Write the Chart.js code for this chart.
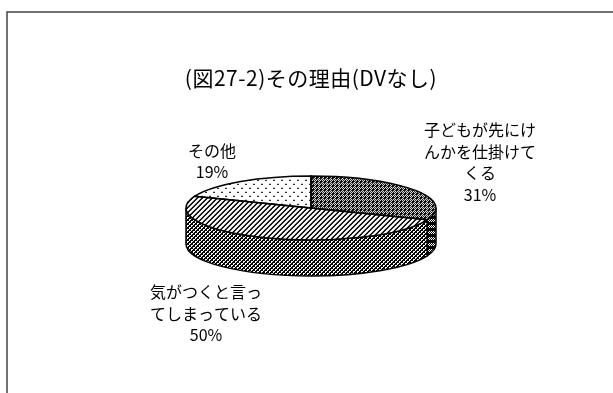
<!DOCTYPE html>
<html>
<head>
<meta charset="utf-8">
<style>
  html, body { margin: 0; padding: 0; background: #fff; }
  #wrap { width: 613px; height: 393px; }
</style>
</head>
<body>
<div id="wrap"><canvas id="pie" width="613" height="393"></canvas></div>
<script src="https://cdn.jsdelivr.net/npm/chart.js@4/dist/chart.umd.min.js"></script>
<script>
// ─── Data ───
const titleText = '(図27-2)その理由(DVなし)';
const categories = ['子どもが先にけんかを仕掛けてくる', '気がつくと言ってしまっている', 'その他'];
const shares = [31, 50, 19];
const labelLines = [
  ['子どもが先にけ', 'んかを仕掛けて', 'くる', '31%'],
  ['気がつくと言っ', 'てしまっている', '50%'],
  ['その他', '19%'],
];

// ─── Layout ───
const TILT = 0.256;
const DEPTH = 36;
const FONT = '"Noto Sans CJK JP", sans-serif';
const LABEL_POS = [[480, 130, 21.6], [206, 292, 21.5], [212, 151, 21]];

// ─── Patterns ───
function tile(w, h, paint) {
  const c = document.createElement('canvas');
  c.width = w; c.height = h;
  const x = c.getContext('2d');
  x.fillStyle = '#fff';
  x.fillRect(0, 0, w, h);
  x.fillStyle = '#000';
  paint(x);
  return c;
}
function makePattern(t, squash) {
  const p = document.createElement('canvas').getContext('2d').createPattern(t, 'repeat');
  if (squash) p.setTransform(new DOMMatrix().scale(1, 1 / TILT));
  return p;
}
const ditherTile = tile(4, 4, x => {
  [[0,0],[2,0],[1,1],[3,1],[0,2],[1,2],[2,2],[3,3],[1,3],[0,3]].forEach(([a,b]) => x.fillRect(a,b,1,1));
});
const hatchTile = tile(5, 5, x => {
  for (let i = 0; i < 5; i++) x.fillRect(i, 4 - i, 1, 1);
  for (let i = 0; i < 5; i++) x.fillRect((i + 1) % 5, 4 - i, 1, 1);
});
const dotTile = tile(8, 8, x => { x.fillRect(1, 1, 2, 1); x.fillRect(5, 5, 2, 1); });
const denseTile = tile(4, 4, x => {
  for (let i = 0; i < 4; i++) { x.fillRect(i, 3 - i, 1, 1); x.fillRect(i, i, 1, 1); }
  x.fillRect(0, 2, 1, 1); x.fillRect(2, 0, 1, 1);
});
const sideDarkTile = tile(4, 6, x => {
  x.fillRect(0, 0, 4, 3);
  x.fillRect(0, 3, 1, 1); x.fillRect(2, 3, 1, 1);
  x.fillRect(1, 4, 1, 1); x.fillRect(3, 4, 1, 1);
  x.fillRect(0, 5, 1, 1); x.fillRect(2, 5, 1, 1);
});
const topFills = [makePattern(ditherTile, true), makePattern(hatchTile, true), makePattern(dotTile, true)];
const sideFills = [makePattern(sideDarkTile), makePattern(denseTile), null];

// ─── Plugin: tilts the pie and adds the rim ───
function tilt(ctx, cy) {
  ctx.translate(0, cy);
  ctx.scale(1, TILT);
  ctx.translate(0, -cy);
}

function rim(ctx, a, fill) {
  const from = Math.max(a.startAngle, 0);
  const to = Math.min(a.endAngle, Math.PI);
  if (to <= from) return;
  const ry = a.outerRadius * TILT;
  ctx.beginPath();
  ctx.ellipse(a.x, a.y, a.outerRadius, ry, 0, from, to);
  ctx.ellipse(a.x, a.y + DEPTH, a.outerRadius, ry, 0, to, from, true);
  ctx.closePath();
  ctx.fillStyle = fill;
  ctx.fill();
  ctx.strokeStyle = '#000';
  ctx.lineWidth = 1.5;
  ctx.stroke();
}

function outline(ctx, a) {
  ctx.save();
  tilt(ctx, a.y);
  ctx.beginPath();
  ctx.moveTo(a.x, a.y);
  ctx.arc(a.x, a.y, a.outerRadius, a.startAngle, a.endAngle);
  ctx.closePath();
  ctx.restore();
  ctx.strokeStyle = '#000';
  ctx.lineWidth = 1.5;
  ctx.stroke();
}

const tiltedPie = {
  id: 'tiltedPie',
  beforeDraw(chart) {
    const ctx = chart.ctx;
    ctx.save();
    ctx.strokeStyle = '#444';
    ctx.lineWidth = 1.5;
    ctx.beginPath();
    ctx.moveTo(613, 12);
    ctx.lineTo(7, 12);
    ctx.lineTo(7, 393);
    ctx.stroke();
    ctx.restore();
  },
  beforeDatasetsDraw(chart) {
    const ctx = chart.ctx;
    const arcs = chart.getDatasetMeta(0).data;
    ctx.save();
    arcs.forEach((a, i) => { if (sideFills[i]) rim(ctx, a, sideFills[i]); });
    tilt(ctx, arcs[0].y);
  },
  afterDatasetsDraw(chart) {
    const ctx = chart.ctx;
    ctx.restore();
    const arcs = chart.getDatasetMeta(0).data;
    arcs.forEach(a => outline(ctx, a));

    ctx.save();
    ctx.fillStyle = '#000';
    ctx.textAlign = 'center';
    ctx.textBaseline = 'middle';
    ctx.font = '21px ' + FONT;
    ctx.letterSpacing = '0.5px';
    ctx.fillText(titleText, 311, 78);
    ctx.letterSpacing = '0px';
    ctx.font = '16px ' + FONT;
    labelLines.forEach((lines, i) => {
      const [x, y, step] = LABEL_POS[i];
      lines.forEach((line, n) => ctx.fillText(line, x, y + n * step));
    });
    ctx.restore();
  },
};

// ─── Init ───
new Chart(document.getElementById('pie'), {
  type: 'pie',
  data: {
    labels: categories,
    datasets: [{ data: shares, backgroundColor: topFills, borderWidth: 0 }],
  },
  options: {
    responsive: false,
    animation: false,
    layout: { padding: { left: 186, right: 177, top: 83, bottom: 60 } },
    plugins: { legend: { display: false }, title: { display: false }, tooltip: { enabled: false } },
  },
  plugins: [tiltedPie],
});
</script>
</body>
</html>
